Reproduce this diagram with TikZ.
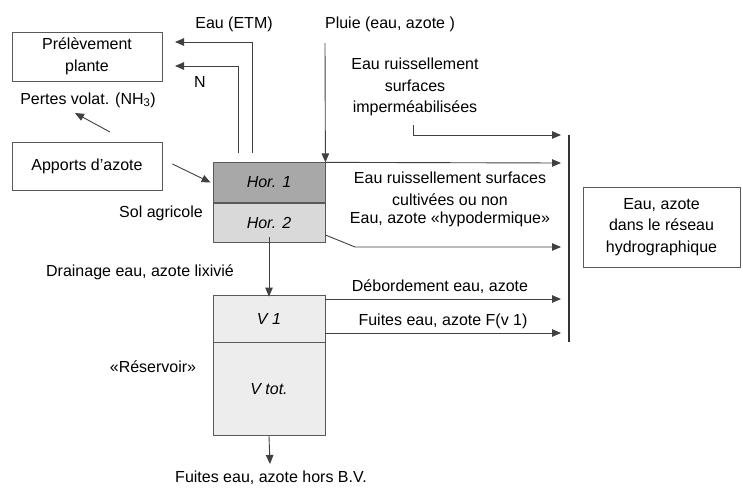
\documentclass[tikz,border=0pt]{standalone}
\usepackage{fontspec}
\setmainfont{Liberation Sans}
\usetikzlibrary{arrows.meta}
\begin{document}
\begin{tikzpicture}[x=1pt,y=-1pt]
\tikzset{box/.style={draw=black!65,line width=0.8pt,inner sep=0pt,align=center},
  flow/.style={draw=black!75,line width=0.9pt,-{Triangle[length=9pt,width=7.5pt]}},
  lbl/.style={inner sep=0pt,align=center}}
\definecolor{horA}{gray}{0.66}
\definecolor{horB}{gray}{0.85}
\definecolor{resv}{gray}{0.93}
\pgfmathsetmacro{\xR}{561}   %arrow tips at the river bar
\useasboundingbox (0,0) rectangle (743,488);
\fontsize{16}{21.5}\selectfont
%plant and inputs
\node[box,minimum width=150pt,minimum height=49pt] (prel) at (87,56.5) {Prélèvement\\plante};
\node[box,minimum width=150pt,minimum height=48pt] (appo) at (87,166) {Apports d'azote};
\node[lbl] (nh) at (88,100) {Pertes volat. (NH\textsubscript{3})};
%soil horizons
\node[box,fill=horA,minimum width=112pt,minimum height=39.5pt] (hor1) at (269,182.5) {\itshape Hor. 1};
\node[box,fill=horB,minimum width=112pt,minimum height=39.5pt,anchor=north] (hor2) at (hor1.south) {\itshape Hor. 2};
\node[lbl,anchor=east] (sol) at (203,213) {Sol agricole};
%reservoir
\node[box,fill=resv,minimum width=112pt,minimum height=47pt] (v1) at (269,318.5) {\itshape V 1};
\node[box,fill=resv,minimum width=112pt,minimum height=93pt,anchor=north] (vtot) at (v1.south) {\itshape V tot.};
\node[lbl] (res) at (153,367) {«Réservoir»};
%river network
\node[box,minimum width=157pt,minimum height=80pt] (riv) at (661.5,227) {Eau, azote\\dans le réseau\\hydrographique};
\coordinate (barT) at (569,135);
\coordinate (barB) at (569,342);
\draw[black!80,line width=1.8pt] (barT)--(barB);
%labels
\node[lbl] (etmL) at (234,24) {Eau (ETM)};
\node[lbl] (nL) at (200,82) {N};
\node[lbl] (pluieL) at (390,24) {Pluie (eau, azote )};
\node[lbl] (impL) at (415,87) {Eau ruissellement\\surfaces\\imperméabilisées};
\node[lbl] (culL) at (450,189) {Eau ruissellement surfaces\\cultivées ou non};
\node[lbl] (hypL) at (450,219) {Eau, azote «hypodermique»};
\node[lbl] (drL) at (140,272) {Drainage eau, azote lixivié};
\node[lbl] (debL) at (440,287) {Débordement eau, azote};
\node[lbl] (fuL) at (443,321) {Fuites eau, azote F(v 1)};
\node[lbl] (horsL) at (271,478) {Fuites eau, azote hors B.V.};
%uptake arrows
\coordinate (etmS) at (252,153);
\coordinate (nS) at (238,153);
\draw[flow] (etmS) |- (175,42);
\draw[flow] (nS) |- (175,66);
\coordinate (nhS) at (110,132);
\coordinate (nhE) at (75,113);
\draw[flow] (nhS)--(nhE);
\draw[flow] ([xshift=10pt,yshift=2pt]appo.east)--([xshift=-2pt]hor1.west);
%rain
\coordinate (pluieS) at (325,43);
\draw[flow] (pluieS)--(hor1.north east);
%runoff and lateral flows
\coordinate (impS) at (413,125);
\draw[flow] (impS) |- (\xR,135);
\draw[flow] (hor1.north east)--(\xR,163);
\draw[flow] (hor2.east |- 0,235)--(355,247)--(\xR,247);
\draw[flow] (v1.east |- 0,299)--(\xR,299);
\draw[flow] (v1.east |- 0,333)--(\xR,333);
%vertical drainage
\draw[flow] ([yshift=6pt]hor2.south)--([yshift=-2pt]v1.north);
\coordinate (horsE) at (270,464);
\draw[flow] (vtot.south)--(horsE);
\end{tikzpicture}
\end{document}
